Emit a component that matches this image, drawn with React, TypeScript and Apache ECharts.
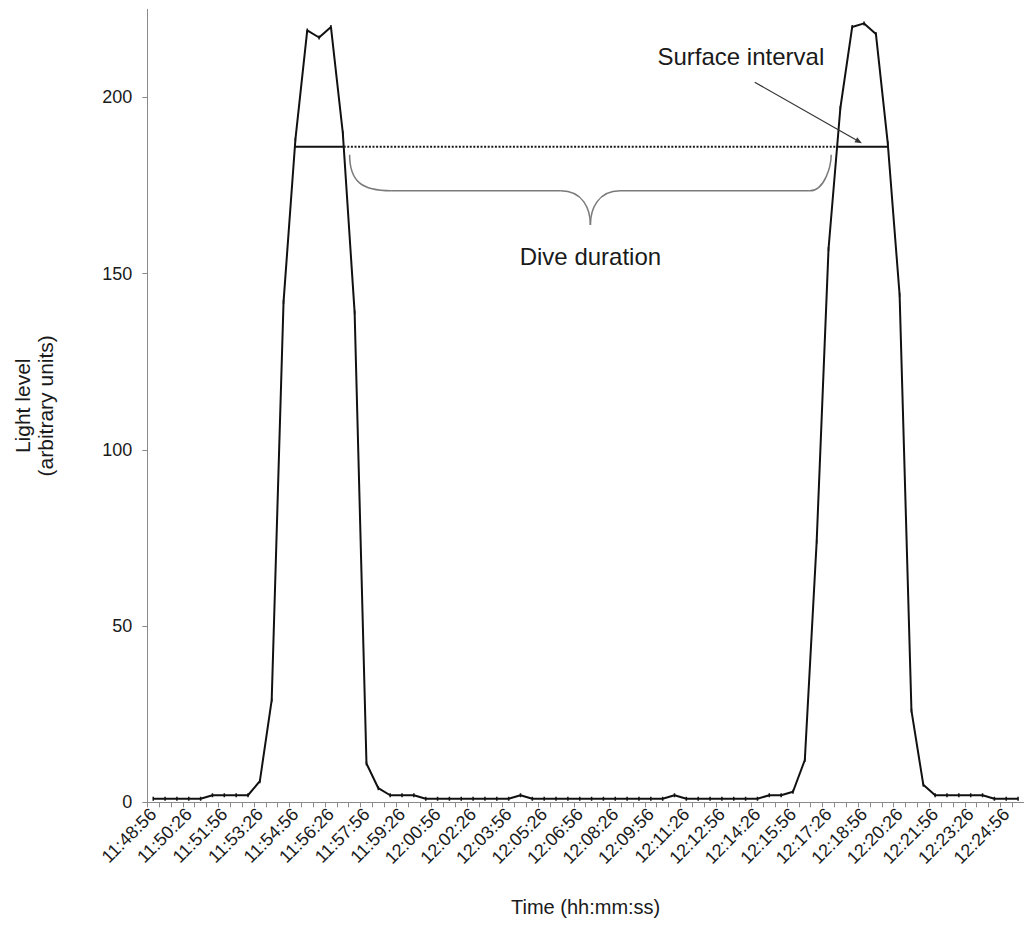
import React, { useEffect, useRef } from "react";
import * as echarts from "echarts";

// ---- data ----
const CATEGORIES = [
  "11:48:56", "11:49:26", "11:49:56", "11:50:26", "11:50:56", "11:51:26", "11:51:56", "11:52:26",
  "11:52:56", "11:53:26", "11:53:56", "11:54:26", "11:54:56", "11:55:26", "11:55:56", "11:56:26",
  "11:56:56", "11:57:26", "11:57:56", "11:58:26", "11:58:56", "11:59:26", "11:59:56", "12:00:26",
  "12:00:56", "12:01:26", "12:01:56", "12:02:26", "12:02:56", "12:03:26", "12:03:56", "12:04:26",
  "12:04:56", "12:05:26", "12:05:56", "12:06:26", "12:06:56", "12:07:26", "12:07:56", "12:08:26",
  "12:08:56", "12:09:26", "12:09:56", "12:10:26", "12:10:56", "12:11:26", "12:11:56", "12:12:26",
  "12:12:56", "12:13:26", "12:13:56", "12:14:26", "12:14:56", "12:15:26", "12:15:56", "12:16:26",
  "12:16:56", "12:17:26", "12:17:56", "12:18:26", "12:18:56", "12:19:26", "12:19:56", "12:20:26",
  "12:20:56", "12:21:26", "12:21:56", "12:22:26", "12:22:56", "12:23:26", "12:23:56", "12:24:26",
  "12:24:56", "12:25:26",
];

const LIGHT_LEVEL = [
  1, 1, 1, 1, 1, 2, 2, 2, 2, 6,
  29, 142, 188, 219, 217, 220, 190, 139, 11, 4,
  2, 2, 2, 1, 1, 1, 1, 1, 1, 1,
  1, 2, 1, 1, 1, 1, 1, 1, 1, 1,
  1, 1, 1, 1, 2, 1, 1, 1, 1, 1,
  1, 1, 2, 2, 3, 12, 74, 157, 197, 220,
  221, 218, 187, 144, 26, 5, 2, 2, 2, 2,
  2, 1, 1, 1,
];

const Y_TICKS = [0, 50, 100, 150, 200];
const SURFACE_THRESHOLD = 186;

// ---- annotation layout (data coordinates) ----
const SURFACE_LABEL_POS = [49.6, 211.5];
const ARROW_FROM = [50.77, 204.3];
const ARROW_TO = [59.82, 187.0];
const DIVE_LABEL_Y = 155.0;
const BRACE_TOP_Y = 183.7;
const BRACE_MID_Y = 173.5;
const BRACE_TIP_Y = 163.8;

const FONT = "'Liberation Sans', Arial, Helvetica, sans-serif";
const AXIS_GREY = "#8a8a8a";
const TEXT = "#1a1a1a";

function crossings(values: number[], t: number): number[] {
  const res: number[] = [];
  for (let i = 0; i < values.length - 1; i++) {
    const a = values[i];
    const b = values[i + 1];
    if ((a < t && b >= t) || (a >= t && b < t)) res.push(i + (t - a) / (b - a));
  }
  return res;
}

export default function App() {
  const ref = useRef<HTMLDivElement>(null);

  useEffect(() => {
    document.body.style.margin = "0";
    if (!ref.current) return;
    const chart = echarts.init(ref.current, undefined, { renderer: "svg" });
    const [r1, f1, r2, f2] = crossings(LIGHT_LEVEL, SURFACE_THRESHOLD);
    const T = SURFACE_THRESHOLD;

    const option: any = {
      animation: false,
      backgroundColor: "#ffffff",
      grid: { left: 147.3, top: 9.3, width: 886, height: 793 },
      xAxis: [
        {
          type: "category",
          data: CATEGORIES,
          boundaryGap: true,
          axisLine: { onZero: false, lineStyle: { color: AXIS_GREY, width: 1 } },
          axisTick: { show: true, interval: 0, length: 5, lineStyle: { color: AXIS_GREY } },
          axisLabel: {
            interval: 2,
            rotate: 45,
            fontSize: 18,
            color: TEXT,
            fontFamily: FONT,
            margin: 9,
          },
          splitLine: { show: false },
          name: "Time (hh:mm:ss)",
          nameLocation: "middle",
          nameGap: 95,
          nameTextStyle: { fontSize: 20, color: TEXT, fontFamily: FONT },
        },
        { type: "value", min: -0.5, max: CATEGORIES.length - 0.5, show: false },
      ],
      yAxis: {
        type: "value",
        min: 0,
        max: 225,
        axisLine: { show: true, onZero: false, lineStyle: { color: AXIS_GREY, width: 1 } },
        axisTick: { show: true, length: 5, customValues: Y_TICKS, lineStyle: { color: AXIS_GREY } },
        axisLabel: { customValues: Y_TICKS, fontSize: 18, color: TEXT, fontFamily: FONT, margin: 15 },
        splitLine: { show: false },
        name: "Light level\n(arbitrary units)",
        nameLocation: "middle",
        nameGap: 90,
        nameTextStyle: { fontSize: 21, lineHeight: 23, color: TEXT, fontFamily: FONT },
      },
      series: [
        {
          type: "line",
          xAxisIndex: 0,
          yAxisIndex: 0,
          data: LIGHT_LEVEL,
          symbol: "rect",
          symbolSize: [1.5, 4],
          itemStyle: { color: "#111" },
          lineStyle: { color: "#111", width: 2 },
          z: 3,
        },
        {
          type: "line",
          xAxisIndex: 1,
          yAxisIndex: 0,
          data: [[r1, T], [f1, T]],
          symbol: "none",
          lineStyle: { color: "#111", width: 2 },
          z: 4,
        },
        {
          type: "line",
          xAxisIndex: 1,
          yAxisIndex: 0,
          data: [[f1, T], [r2, T]],
          symbol: "none",
          lineStyle: { color: "#1a1a1a", width: 2, type: [2, 1.6] },
          z: 4,
        },
        {
          type: "line",
          xAxisIndex: 1,
          yAxisIndex: 0,
          data: [[r2, T], [f2, T]],
          symbol: "none",
          lineStyle: { color: "#111", width: 2 },
          z: 4,
        },
      ],
    };
    chart.setOption(option);

    const px = (x: number, y: number) => chart.convertToPixel({ seriesIndex: 1 }, [x, y]) as number[];

    // brace
    const A = px(f1 + 0.5, BRACE_TOP_Y);
    const B = px(f1 + 4.0, BRACE_MID_Y);
    const mid = (f1 + r2) / 2;
    const Tip = px(mid, BRACE_TIP_Y);
    const C1 = px(mid - 2.5, BRACE_MID_Y);
    const C2 = px(mid + 2.5, BRACE_MID_Y);
    const D = px(r2 - 2.3, BRACE_MID_Y);
    const E = px(r2 - 0.5, BRACE_TOP_Y);
    const braceStyle = { stroke: "#7a7a7a", lineWidth: 1.5, fill: "none" };

    const sPos = px(SURFACE_LABEL_POS[0], SURFACE_LABEL_POS[1]);
    const dPos = px(mid, DIVE_LABEL_Y);
    const a0 = px(ARROW_FROM[0], ARROW_FROM[1]);
    const a1 = px(ARROW_TO[0], ARROW_TO[1]);
    const dx = a1[0] - a0[0];
    const dy = a1[1] - a0[1];
    const len = Math.sqrt(dx * dx + dy * dy);
    const ux = dx / len;
    const uy = dy / len;
    const hl = 7;
    const hw = 2.8;
    const base = [a1[0] - ux * hl, a1[1] - uy * hl];

    const textStyle = (text: string) => ({
      text,
      fontSize: 24,
      fontFamily: FONT,
      fill: TEXT,
      align: "center",
      verticalAlign: "middle",
      textAlign: "center",
      textVerticalAlign: "middle",
    });

    chart.setOption({
      graphic: [
        {
          type: "bezierCurve",
          z: 10,
          shape: { x1: A[0], y1: A[1], cpx1: A[0], cpy1: A[1] + 0.75 * (B[1] - A[1]), cpx2: A[0] + 0.3 * (B[0] - A[0]), cpy2: B[1], x2: B[0], y2: B[1] },
          style: braceStyle,
        },
        { type: "line", z: 10, shape: { x1: B[0], y1: B[1], x2: C1[0], y2: C1[1] }, style: braceStyle },
        {
          type: "bezierCurve",
          z: 10,
          shape: { x1: C1[0], y1: C1[1], cpx1: C1[0] + 22, cpy1: C1[1], cpx2: Tip[0], cpy2: Tip[1] - 16, x2: Tip[0], y2: Tip[1] },
          style: braceStyle,
        },
        {
          type: "bezierCurve",
          z: 10,
          shape: { x1: Tip[0], y1: Tip[1], cpx1: Tip[0], cpy1: Tip[1] - 16, cpx2: C2[0] - 22, cpy2: C2[1], x2: C2[0], y2: C2[1] },
          style: braceStyle,
        },
        { type: "line", z: 10, shape: { x1: C2[0], y1: C2[1], x2: D[0], y2: D[1] }, style: braceStyle },
        {
          type: "bezierCurve",
          z: 10,
          shape: { x1: D[0], y1: D[1], cpx1: D[0] + 0.7 * (E[0] - D[0]), cpy1: D[1], cpx2: E[0], cpy2: E[1] + 0.3 * (D[1] - E[1]), x2: E[0], y2: E[1] },
          style: braceStyle,
        },
        { type: "text", z: 10, x: sPos[0], y: sPos[1], style: textStyle("Surface interval") },
        { type: "text", z: 10, x: dPos[0], y: dPos[1], style: textStyle("Dive duration") },
        { type: "line", z: 10, shape: { x1: a0[0], y1: a0[1], x2: base[0], y2: base[1] }, style: { stroke: "#333", lineWidth: 1.2 } },
        {
          type: "polygon",
          z: 10,
          shape: { points: [[a1[0], a1[1]], [base[0] - uy * hw, base[1] + ux * hw], [base[0] + uy * hw, base[1] - ux * hw]] },
          style: { fill: "#333" },
        },
      ],
    });

    return () => chart.dispose();
  }, []);

  return <div ref={ref} style={{ width: 1024, height: 945, overflow: "hidden" }} />;
}
